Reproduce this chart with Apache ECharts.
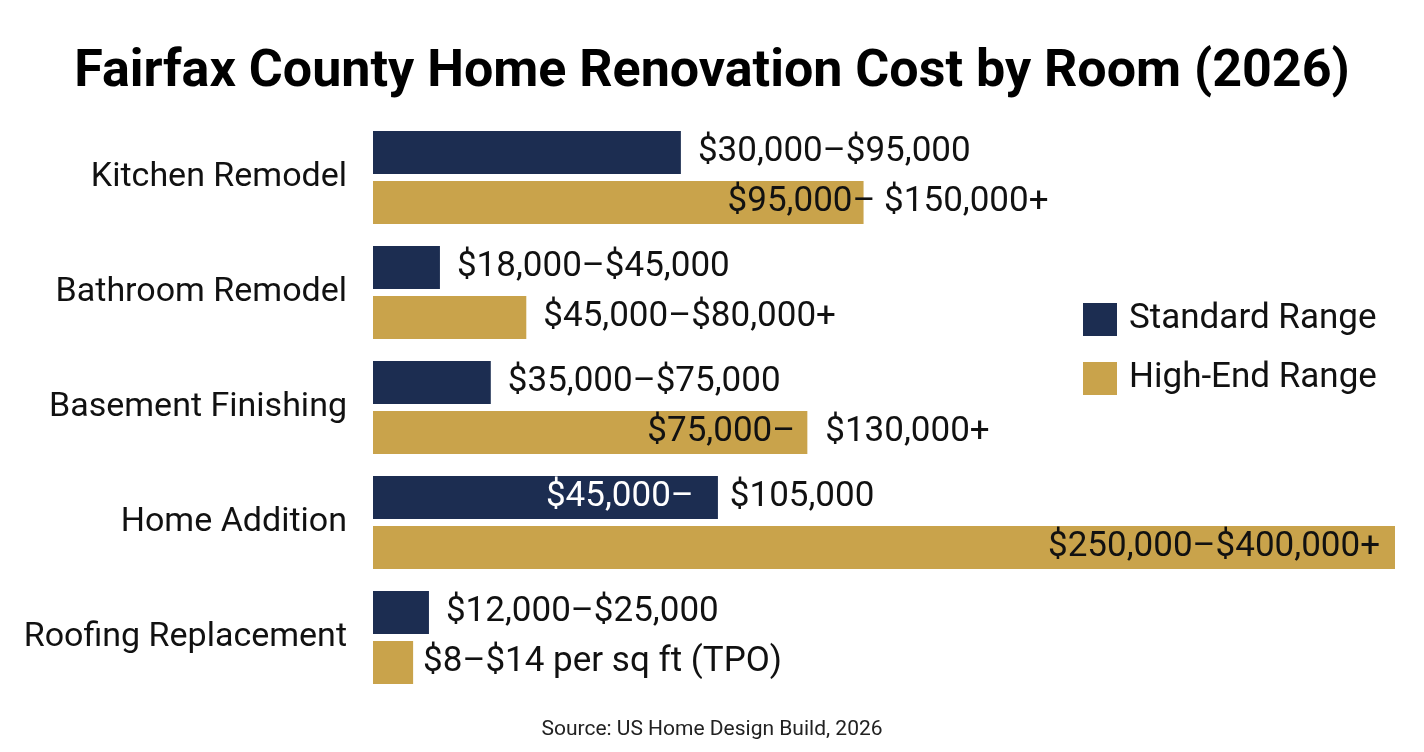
<!DOCTYPE html>
<html>
<head>
<meta charset="utf-8">
<script src="https://cdn.jsdelivr.net/npm/echarts@6/dist/echarts.min.js"></script>
<style>
html,body{margin:0;padding:0;background:#fff;}
#chart{width:1424px;height:752px;}
</style>
</head>
<body>
<div id="chart"></div>
<script>
// Data (bar lengths on the drawn scale, 0-400)
const categories = ['Kitchen Remodel', 'Bathroom Remodel', 'Basement Finishing', 'Home Addition', 'Roofing Replacement'];
const standardValues = [120.5, 26.2, 46.1, 135, 21.9];
const highEndValues = [192, 60, 170, 400, 15.7];
const standardLabels = ['$30,000–$95,000', '$18,000–$45,000', '$35,000–$75,000', '$45,000–|$105,000', '$12,000–$25,000'];
const highEndLabels = ['$95,000– $150,000+', '$45,000–$80,000+', '$75,000–|$130,000+', '$250,000–$400,000+', '$8–$14 per sq ft (TPO)'];
const seriesNames = ['Standard Range', 'High-End Range'];

const NAVY = '#1c2d51';
const GOLD = '#c9a34b';
const INK = '#111111';
const FONT = 'Roboto, "Noto Sans", sans-serif';
const LABEL_SIZE = 35;

// label overrides (style only)
const stdLabelStyle = [
  null, null, null,
  { offset: [-189, 0], split: true, firstColor: '#ffffff', gapW: 36 },
  null
];
const highLabelStyle = [
  { offset: [-153, 0] },
  null,
  { offset: [-177, 0], split: true, firstColor: INK, gapW: 30 },
  { inside: true },
  { offset: [-7, 0] }
];

function buildData(values, labels, styles) {
  return values.map((v, i) => {
    const st = styles[i];
    const item = { value: v };
    if (!st) return item;
    const lab = {};
    if (st.inside) {
      lab.position = 'insideRight';
      lab.distance = 15;
    }
    if (st.offset) lab.offset = st.offset;
    if (st.split) {
      const parts = labels[i].split('|');
      lab.formatter = '{a|' + parts[0] + '}{g|}{b|' + parts[1] + '}';
      lab.rich = {
        a: { color: st.firstColor, fontSize: LABEL_SIZE, fontFamily: FONT },
        g: { width: st.gapW },
        b: { color: INK, fontSize: LABEL_SIZE, fontFamily: FONT }
      };
    }
    item.label = lab;
    return item;
  });
}

const chart = echarts.init(document.getElementById('chart'));
chart.setOption({
  backgroundColor: '#ffffff',
  animation: false,
  title: [
    {
      text: 'Fairfax County Home Renovation Cost by Room (2026)',
      left: 'center',
      top: 42,
      textStyle: { fontFamily: FONT, fontWeight: 'bold', fontSize: 52, color: '#000' }
    },
    {
      text: 'Source: US Home Design Build, 2026',
      left: 'center',
      top: 714,
      textStyle: { fontFamily: FONT, fontWeight: 'normal', fontSize: 21, color: '#222' }
    }
  ],
  legend: {
    orient: 'vertical',
    left: 1078,
    top: 297,
    itemWidth: 34,
    itemHeight: 33,
    itemGap: 24,
    icon: 'rect',
    data: seriesNames,
    textStyle: { fontFamily: FONT, fontSize: 35, color: INK, padding: [0, 0, 0, 7] }
  },
  grid: { left: 373, right: 29, top: 120, bottom: 57, containLabel: false },
  xAxis: {
    type: 'value',
    min: 0,
    max: 400,
    show: false
  },
  yAxis: {
    type: 'category',
    data: categories,
    inverse: true,
    axisLine: { show: false },
    axisTick: { show: false },
    axisLabel: { fontFamily: FONT, fontSize: 34, color: INK, margin: 26 }
  },
  series: [
    {
      name: seriesNames[0],
      type: 'bar',
      barWidth: 43,
      barGap: '16%',
      itemStyle: { color: NAVY },
      data: buildData(standardValues, standardLabels, stdLabelStyle),
      label: {
        show: true,
        position: 'right',
        distance: 17,
        fontFamily: FONT,
        fontSize: LABEL_SIZE,
        color: INK,
        formatter: p => standardLabels[p.dataIndex]
      }
    },
    {
      name: seriesNames[1],
      type: 'bar',
      barWidth: 43,
      barGap: '16%',
      itemStyle: { color: GOLD },
      data: buildData(highEndValues, highEndLabels, highLabelStyle),
      label: {
        show: true,
        position: 'right',
        distance: 17,
        fontFamily: FONT,
        fontSize: LABEL_SIZE,
        color: INK,
        formatter: p => highEndLabels[p.dataIndex]
      }
    }
  ]
});
</script>
</body>
</html>
